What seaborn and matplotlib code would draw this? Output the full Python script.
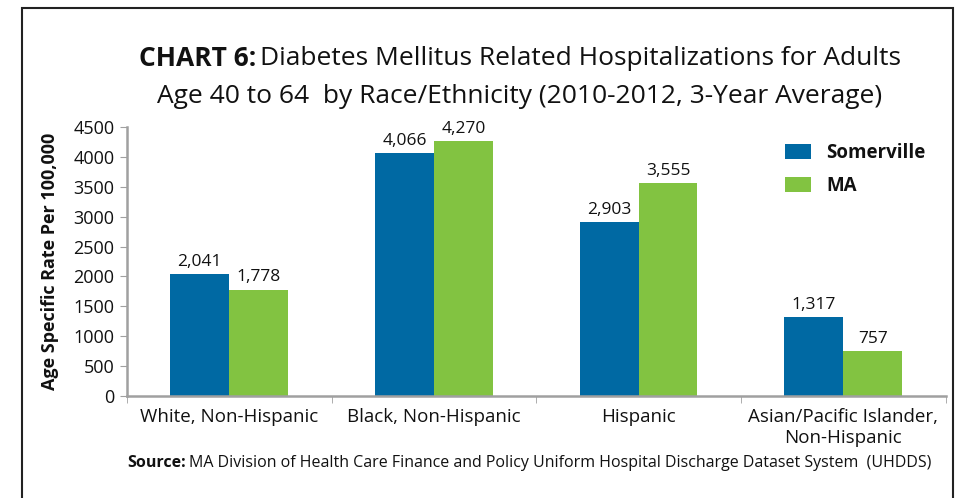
import pandas as pd
import matplotlib.pyplot as plt
import seaborn as sns
from matplotlib.patches import Rectangle

groups = ["White, Non-Hispanic", "Black, Non-Hispanic", "Hispanic",
          "Asian/Pacific Islander,\nNon-Hispanic"]
somerville = [2041, 4066, 2903, 1317]
ma = [1778, 4270, 3555, 757]
series = ["Somerville", "MA"]
yticks = [0, 500, 1000, 1500, 2000, 2500, 3000, 3500, 4000, 4500]

df = pd.DataFrame({
    "group": groups * 2,
    "series": [series[0]] * 4 + [series[1]] * 4,
    "rate": somerville + ma,
})

sns.set_style("white")
font = ["Open Sans", "DejaVu Sans"]
plt.rcParams["font.family"] = font

fig = plt.figure(figsize=(9.61, 4.98), dpi=100)
ax = fig.add_axes([0.132, 0.205, 0.852, 0.54])

colors = {"Somerville": "#0069A3", "MA": "#82C341"}
sns.barplot(data=df, x="group", y="rate", hue="series", palette=colors,
            width=0.575, gap=0, saturation=1, linewidth=0, ax=ax, legend=True)

for c in ax.containers:
    ax.bar_label(c, labels=[f"{v:,.0f}" for v in c.datavalues], padding=3,
                 fontsize=12.5, color="#111111")

ax.set_ylim(0, 4500)
ax.set_yticks(yticks)
ax.set_xlim(-0.5, 3.5)
ax.set_xlabel("")
ax.set_ylabel("Age Specific Rate Per 100,000", fontsize=13, fontweight="bold",
              labelpad=10, color="#111111")
ax.tick_params(axis="y", labelsize=13, length=5, color="#A0A0A0", direction="out",
               left=True, pad=4, labelcolor="#111111")
ax.tick_params(axis="x", which="major", length=0, labelsize=13.5, pad=9,
               labelcolor="#111111")
ax.set_xticks([-0.5, 0.5, 1.5, 2.5, 3.5], minor=True)
ax.tick_params(axis="x", which="minor", length=5, color="#A0A0A0", bottom=True)
for s in ["top", "right"]:
    ax.spines[s].set_visible(False)
for s in ["left", "bottom"]:
    ax.spines[s].set_color("#A0A0A0")
    ax.spines[s].set_linewidth(1.8)

leg = ax.legend(loc="upper left", bbox_to_anchor=(0.783, 1.005), frameon=False,
                handlelength=1.4, handleheight=0.85, handletextpad=0.8,
                labelspacing=0.7,
                prop={"weight": "bold", "size": 13.5, "family": font})
for tx in leg.get_texts():
    tx.set_color("#111111")

fig.canvas.draw()
W = fig.bbox.width


def two_part(y, bold, rest, size, cx=None, x0=None):
    a = fig.text(0, y, bold, ha="left", va="center", fontsize=size,
                 fontweight="bold", color="#111111")
    b = fig.text(0, y, rest, ha="left", va="center", fontsize=size,
                 color="#111111")
    fig.canvas.draw()
    wa = a.get_window_extent().width / W
    wb = b.get_window_extent().width / W
    gap = 0.004
    start = x0 if x0 is not None else cx - (wa + gap + wb) / 2
    a.set_x(start)
    b.set_x(start + wa + gap)


two_part(0.882, "CHART 6:", "Diabetes Mellitus Related Hospitalizations for Adults",
         19, cx=0.541)
fig.text(0.541, 0.806, "Age 40 to 64  by Race/Ethnicity (2010-2012, 3-Year Average)",
         ha="center", va="center", fontsize=19, color="#111111")
two_part(0.07, "Source:",
         "MA Division of Health Care Finance and Policy Uniform Hospital Discharge Dataset System  (UHDDS)",
         11.5, x0=0.132)

fig.patches.append(Rectangle((22 / 961, -0.1), (953 - 22) / 961, 1.1 - 8 / 498,
                             transform=fig.transFigure, fill=False,
                             edgecolor="#222222", linewidth=1.5))

fig.savefig("out.png", dpi=100)
